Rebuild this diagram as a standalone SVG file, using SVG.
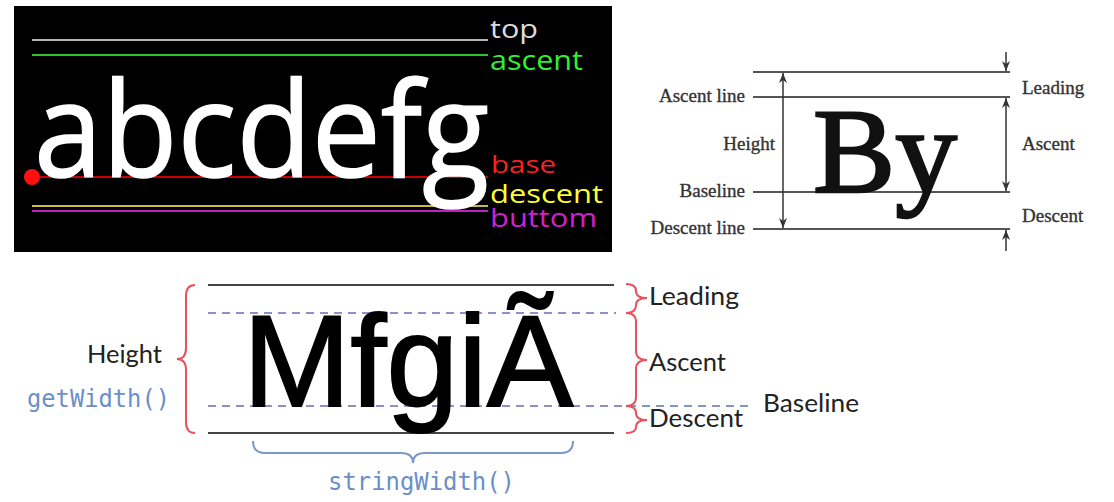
<svg xmlns="http://www.w3.org/2000/svg" width="1114" height="502" viewBox="0 0 1114 502">
<defs>
<style>
.ol{font-family:"Open Sans","DejaVu Sans",sans-serif}
.serif{font-family:"Liberation Serif","Times New Roman",serif;fill:#333;stroke:#333;stroke-width:0.35;font-size:19px}
.cal{font-family:Lato,"Open Sans",sans-serif;fill:#222;font-size:25px}
.mono{font-family:"DejaVu Sans Mono","Liberation Mono",monospace;fill:#6b8fc7;font-size:24px}
.gl{stroke:#555;stroke-width:2;fill:none}
.bl{stroke:#444;stroke-width:2;fill:none}
.dash{stroke:#8396c8;stroke-width:2;stroke-dasharray:8 6;fill:none}
.rb{stroke:#e5535c;stroke-width:2;fill:none}
.bb{stroke:#7c98c8;stroke-width:2;fill:none}
</style>
<marker id="ah" viewBox="0 0 10 8" refX="10" refY="4" markerWidth="10" markerHeight="8" markerUnits="userSpaceOnUse" orient="auto-start-reverse">
<path d="M0,0 L10,4 L0,8 L3,4 z" fill="#333"/>
</marker>
</defs>
<rect width="1114" height="502" fill="#fff"/>

<g id="android-metrics">
<rect x="14" y="6" width="598" height="246" fill="#000"/>
<line x1="32" y1="40" x2="488" y2="40" stroke="#b4b4b4" stroke-width="2"/>
<line x1="32" y1="55" x2="488" y2="55" stroke="#2ec02e" stroke-width="2"/>
<line x1="32" y1="177" x2="488" y2="177" stroke="#c80000" stroke-width="2"/>
<line x1="32" y1="206" x2="488" y2="206" stroke="#c8bd40" stroke-width="2"/>
<line x1="32" y1="211" x2="488" y2="211" stroke="#c020c0" stroke-width="2"/>
<text class="ol" x="34" y="177" font-size="132" fill="#fff" stroke="#fff" stroke-width="1.5" textLength="455" lengthAdjust="spacingAndGlyphs">abcdefg</text>
<circle cx="32" cy="177" r="8" fill="#ff1010"/>
<text class="ol" x="490" y="38" font-size="25" fill="#dcdcdc" textLength="48" lengthAdjust="spacingAndGlyphs">top</text>
<text class="ol" x="490" y="70" font-size="27" fill="#33ee33" textLength="93" lengthAdjust="spacingAndGlyphs">ascent</text>
<text class="ol" x="491" y="173" font-size="24" fill="#ff2020" textLength="65" lengthAdjust="spacingAndGlyphs">base</text>
<text class="ol" x="490" y="203" font-size="25" fill="#ffff30" textLength="113" lengthAdjust="spacingAndGlyphs">descent</text>
<text class="ol" x="490" y="227" font-size="25" fill="#d020d0" textLength="107" lengthAdjust="spacingAndGlyphs">buttom</text>
</g>

<g id="serif-metrics">
<line class="gl" x1="753" y1="72" x2="1010" y2="72"/>
<line class="gl" x1="753" y1="97" x2="1010" y2="97"/>
<line class="gl" x1="753" y1="192" x2="1010" y2="192"/>
<line class="gl" x1="753" y1="229" x2="1010" y2="229"/>
<text x="813" y="192" font-family="Liberation Serif,Times New Roman,serif" font-size="121" fill="#111" stroke="#111" stroke-width="2.5" textLength="144" lengthAdjust="spacingAndGlyphs">By</text>
<text class="serif" x="745" y="102" text-anchor="end">Ascent line</text>
<text class="serif" x="775" y="150" text-anchor="end">Height</text>
<text class="serif" x="745" y="197" text-anchor="end">Baseline</text>
<text class="serif" x="745" y="234" text-anchor="end">Descent line</text>
<text class="serif" x="1022" y="94">Leading</text>
<text class="serif" x="1022" y="150">Ascent</text>
<text class="serif" x="1022" y="222">Descent</text>
</g>

<g id="connectors">
<line x1="783" y1="73" x2="783" y2="228" stroke="#333" stroke-width="1.5" marker-start="url(#ah)" marker-end="url(#ah)"/>
<line x1="1006" y1="98" x2="1006" y2="191" stroke="#333" stroke-width="1.5" marker-start="url(#ah)" marker-end="url(#ah)"/>
<line x1="1006" y1="52" x2="1006" y2="71" stroke="#333" stroke-width="1.5" marker-end="url(#ah)"/>
<line x1="1006" y1="251" x2="1006" y2="230" stroke="#333" stroke-width="1.5" marker-end="url(#ah)"/>
</g>

<g id="java-metrics">
<line class="bl" x1="208" y1="285" x2="614" y2="285"/>
<line class="dash" x1="208" y1="313" x2="616" y2="313"/>
<line class="dash" x1="208" y1="406" x2="753" y2="406"/>
<line class="bl" x1="208" y1="433" x2="614" y2="433"/>
<text x="243" y="406" font-family="Liberation Sans,Arial,sans-serif" font-size="130" fill="#000" stroke="#000" stroke-width="2" textLength="330" lengthAdjust="spacingAndGlyphs">MfgiÃ</text>
<path class="rb" d="M195,285 Q186,285 186,296 L186,348 Q186,359 177,359 Q186,359 186,370 L186,422 Q186,433 195,433"/>
<path class="rb" d="M626,284 Q636,284 636,291 Q636,298 647,298 Q636,298 636,305 Q636,313 626,313"/>
<path class="rb" d="M626,313 Q636,313 636,322 L636,351 Q636,360 647,360 Q636,360 636,369 L636,397 Q636,406 626,406"/>
<path class="rb" d="M626,406 Q636,406 636,413 Q636,420 647,420 Q636,420 636,427 Q636,433 626,433"/>
<path class="bb" d="M253,441 Q253,453 265,453 L401,453 Q413,453 413,463 Q413,453 425,453 L561,453 Q573,453 573,441"/>
<text class="cal" x="162" y="363" text-anchor="end" textLength="75" lengthAdjust="spacingAndGlyphs">Height</text>
<text class="mono" x="27" y="407" textLength="143" lengthAdjust="spacingAndGlyphs">getWidth()</text>
<text class="cal" x="649" y="305" textLength="90" lengthAdjust="spacingAndGlyphs">Leading</text>
<text class="cal" x="649" y="371" textLength="77" lengthAdjust="spacingAndGlyphs">Ascent</text>
<text class="cal" x="649" y="427" textLength="94" lengthAdjust="spacingAndGlyphs">Descent</text>
<text class="cal" x="763" y="412" textLength="96" lengthAdjust="spacingAndGlyphs">Baseline</text>
<text class="mono" x="328" y="490" textLength="187" lengthAdjust="spacingAndGlyphs">stringWidth()</text>
</g>
</svg>
